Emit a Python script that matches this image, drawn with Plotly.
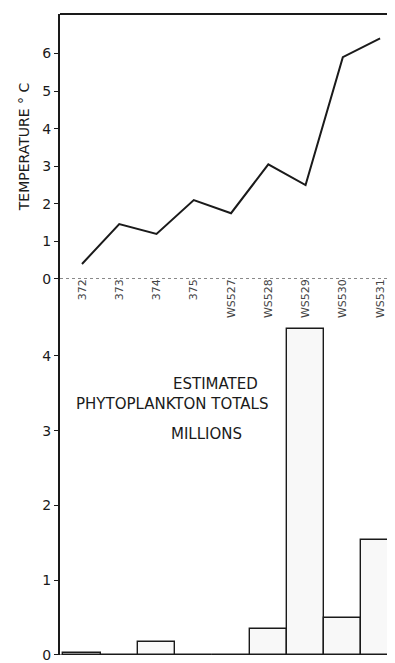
import plotly.graph_objects as go

stations = ["372", "373", "374", "375", "WS527", "WS528", "WS529", "WS530", "WS531"]
temperature = [0.40, 1.46, 1.20, 2.10, 1.75, 3.05, 2.50, 5.90, 6.40]
phyto_millions = [0.03, 0.0, 0.18, 0.0, 0.0, 0.35, 4.36, 0.50, 1.54]

FONT = "DejaVu Sans"
INK = "#1a1a1a"
split = 0.5866

fig = go.Figure()
fig.add_trace(go.Scatter(x=stations, y=temperature, mode="lines",
                         line=dict(color=INK, width=2), xaxis="x", yaxis="y",
                         showlegend=False, hoverinfo="skip"))
fig.add_trace(go.Bar(x=stations, y=phyto_millions, xaxis="x2", yaxis="y2",
                     marker=dict(color="#f8f8f8", line=dict(color=INK, width=1.4)),
                     showlegend=False, hoverinfo="skip"))

xr = [-0.59, 8.40]
fig.update_layout(
    width=387, height=655,
    margin=dict(l=52, r=0, t=6, b=8, autoexpand=False),
    plot_bgcolor="white", paper_bgcolor="white",
    font=dict(family=FONT, color=INK),
    bargap=0,
    xaxis=dict(type="category", range=xr, anchor="y", showline=False,
               showgrid=False, zeroline=False, ticks="", tickangle=-90,
               tickfont=dict(size=11, color="#444"), ticklabelstandoff=-3),
    xaxis2=dict(type="category", range=xr, anchor="y2", matches="x",
                showticklabels=False, showline=False, showgrid=False, ticks=""),
    yaxis=dict(domain=[split, 1], range=[0, 7.05], tickvals=[0, 1, 2, 3, 4, 5, 6],
               showline=True, linecolor=INK, linewidth=2, ticks="outside",
               ticklen=4, tickcolor=INK, showgrid=False, zeroline=False,
               tickfont=dict(size=14),
               title=dict(text="TEMPERATURE ° C", font=dict(size=14), standoff=9)),
    yaxis2=dict(domain=[0, split], range=[0, 5.03], tickvals=[0, 1, 2, 3, 4],
                showline=True, linecolor=INK, linewidth=2, ticks="outside",
                ticklen=4, tickcolor=INK, showgrid=False, zeroline=False,
                tickfont=dict(size=14)),
    shapes=[
        dict(type="line", xref="paper", yref="paper", x0=0, x1=1, y0=1, y1=1,
             line=dict(color=INK, width=2)),
        dict(type="line", xref="paper", yref="y", x0=0, x1=1, y0=0, y1=0,
             line=dict(color=INK, width=1, dash="dot")),
        dict(type="line", xref="paper", yref="y2", x0=0, x1=1, y0=0, y1=0,
             line=dict(color=INK, width=1, dash="dash"), layer="below"),
    ],
    annotations=[
        dict(text="ESTIMATED", xref="paper", yref="y2", x=0.33, y=3.63,
             showarrow=False, font=dict(size=15)),
        dict(text="PHYTOPLANKTON TOTALS", xref="paper", yref="y2", x=0.335, y=3.36,
             showarrow=False, font=dict(size=15)),
        dict(text="MILLIONS", xref="paper", yref="y2", x=0.325, y=2.96,
             showarrow=False, font=dict(size=15)),
    ],
)

fig.write_html("out.html")
